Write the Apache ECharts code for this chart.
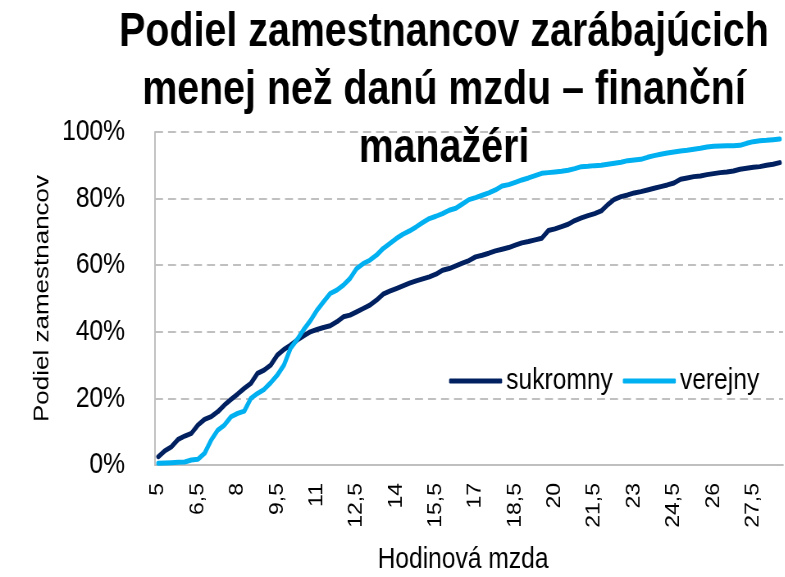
<!DOCTYPE html>
<html>
<head>
<meta charset="utf-8">
<script src="https://cdn.jsdelivr.net/npm/echarts@6/dist/echarts.min.js"></script>
<style>
  html, body { margin: 0; padding: 0; background: #fff; overflow: hidden; }
  #wrap { width: 785px; height: 577px; overflow: hidden; }
  /* The chart is laid out wider and condensed horizontally, giving narrow-style lettering */
  #chart { height: 577px; transform-origin: 0 0; }
</style>
</head>
<body>
<div id="wrap"><div id="chart"></div></div>
<script>
// Hourly wage (EUR), step 0.25
const wages = [
  5, 5.25, 5.5, 5.75, 6, 6.25, 6.5, 6.75, 7, 7.25, 7.5, 7.75,
  8, 8.25, 8.5, 8.75, 9, 9.25, 9.5, 9.75, 10, 10.25, 10.5, 10.75,
  11, 11.25, 11.5, 11.75, 12, 12.25, 12.5, 12.75, 13, 13.25, 13.5, 13.75,
  14, 14.25, 14.5, 14.75, 15, 15.25, 15.5, 15.75, 16, 16.25, 16.5, 16.75,
  17, 17.25, 17.5, 17.75, 18, 18.25, 18.5, 18.75, 19, 19.25, 19.5, 19.75,
  20, 20.25, 20.5, 20.75, 21, 21.25, 21.5, 21.75, 22, 22.25, 22.5, 22.75,
  23, 23.25, 23.5, 23.75, 24, 24.25, 24.5, 24.75, 25, 25.25, 25.5, 25.75,
  26, 26.25, 26.5, 26.75, 27, 27.25, 27.5, 27.75, 28, 28.25, 28.5
];

// Cumulative share of employees (%) – private sector
const sukromny = [
  2.5, 4.3, 5.5, 7.7, 8.7, 9.5, 12.0, 13.7, 14.5, 16.0, 18.0, 19.7,
  21.3, 23.0, 24.5, 27.5, 28.5, 30.0, 33.0, 34.7, 36.0, 37.5, 38.8, 40.0,
  40.7, 41.3, 41.8, 43.0, 44.5, 45.0, 46.0, 47.0, 48.0, 49.5, 51.3, 52.2,
  53.0, 53.8, 54.6, 55.3, 55.9, 56.5, 57.3, 58.5, 59.0, 59.8, 60.6, 61.4,
  62.5, 63.0, 63.6, 64.3, 64.8, 65.3, 66.0, 66.7, 67.1, 67.6, 68.1, 70.4,
  70.9, 71.6, 72.3, 73.4, 74.2, 74.9, 75.5, 76.3, 78.2, 79.8, 80.6, 81.1,
  81.7, 82.1, 82.6, 83.1, 83.6, 84.1, 84.7, 85.8, 86.2, 86.6, 86.8, 87.2,
  87.5, 87.8, 88.0, 88.3, 88.8, 89.1, 89.4, 89.6, 90.0, 90.3, 90.8
];

// Cumulative share of employees (%) – public sector
const verejny = [
  0.5, 0.6, 0.7, 0.8, 0.9, 1.5, 1.7, 3.5, 7.5, 10.5, 12.0, 14.5,
  15.5, 16.2, 20.0, 21.5, 22.7, 24.7, 27.0, 30.0, 35.0, 37.7, 40.7, 43.3,
  46.5, 49.0, 51.5, 52.5, 54.0, 56.0, 59.0, 60.5, 61.5, 63.0, 65.0, 66.5,
  68.0, 69.3, 70.3, 71.5, 72.8, 74.0, 74.7, 75.5, 76.5, 77.1, 78.4, 79.7,
  80.3, 81.0, 81.7, 82.6, 83.8, 84.2, 84.9, 85.6, 86.2, 86.9, 87.6, 87.8,
  88.0, 88.2, 88.5, 89.0, 89.6, 89.7, 89.9, 90.0, 90.3, 90.6, 90.9, 91.4,
  91.6, 91.8, 92.4, 92.9, 93.3, 93.7, 94.0, 94.3, 94.5, 94.8, 95.1, 95.5,
  95.7, 95.8, 95.9, 95.9, 96.0, 96.6, 97.1, 97.4, 97.5, 97.7, 97.9
];

const titleLines = ['Podiel zamestnancov zarábajúcich', 'menej než danú mzdu – finanční', 'manažéri'];
const seriesNames = ['sukromny', 'verejny'];
const xAxisTitle = 'Hodinová mzda';
const yAxisTitle = 'Podiel zamestnancov';

// Horizontal condensing factor; px() converts on-screen x distances to layout units
const K = 0.82;
const W = 785, H = 577;
const px = (v) => v / K;

const el = document.getElementById('chart');
el.style.width = px(W) + 'px';
el.style.transform = 'scaleX(' + K + ')';

const FONT = '"Liberation Sans", Arial, sans-serif';
const DARK = '#002060';
const LIGHT = '#00B0F0';

const chart = echarts.init(el, null, { renderer: 'canvas', width: px(W), height: H });

const lineStyle = (color) => ({ color: color, width: 5, cap: 'round', join: 'round' });

chart.setOption({
  animation: false,
  backgroundColor: '#fff',
  textStyle: { fontFamily: FONT, color: '#000' },
  grid: {
    left: px(155), right: px(2), top: 132, bottom: 112,
    containLabel: false,
    outerBoundsMode: 'none'
  },
  legend: {
    left: px(445),
    top: 361,
    itemWidth: px(53),
    itemHeight: 5,
    itemGap: px(10),
    icon: 'roundRect',
    textStyle: { fontFamily: FONT, fontSize: 30, color: '#000', padding: [0, 0, 0, 0] },
    data: seriesNames
  },
  xAxis: {
    type: 'category',
    data: wages,
    boundaryGap: true,
    name: xAxisTitle,
    nameLocation: 'middle',
    nameGap: 80,
    nameTextStyle: { fontFamily: FONT, fontSize: 30, color: '#000', padding: [0, px(12), 0, 0] },
    axisLine: { lineStyle: { color: '#bfbfbf', width: 2 } },
    axisTick: { show: false },
    axisLabel: {
      interval: 5,
      rotate: 90,
      margin: 18,
      fontFamily: FONT,
      fontSize: 23,
      color: '#000',
      formatter: (v) => String(v).replace('.', ',')
    },
    splitLine: { show: false }
  },
  yAxis: {
    type: 'value',
    min: 0,
    max: 100,
    interval: 20,
    name: yAxisTitle,
    nameLocation: 'middle',
    nameGap: 116,
    nameTextStyle: { fontFamily: FONT, fontSize: 26, color: '#000' },
    axisLine: { show: true, lineStyle: { color: '#bfbfbf', width: 2 } },
    axisTick: { show: false },
    axisLabel: {
      margin: px(30),
      fontFamily: FONT,
      fontSize: 30,
      color: '#000',
      formatter: '{value}%'
    },
    splitLine: { lineStyle: { color: '#c0c0c0', width: 2, type: [px(8), px(5)] } }
  },
  series: [
    {
      name: seriesNames[0],
      type: 'line',
      data: sukromny,
      showSymbol: false,
      symbol: 'none',
      lineStyle: lineStyle(DARK),
      itemStyle: { color: DARK }
    },
    {
      name: seriesNames[1],
      type: 'line',
      data: verejny,
      showSymbol: false,
      symbol: 'none',
      lineStyle: lineStyle(LIGHT),
      itemStyle: { color: LIGHT }
    }
  ],
  graphic: [
    {
      type: 'text',
      x: px(444),
      y: 4,
      z: 100,
      style: {
        text: titleLines.join('\n'),
        textAlign: 'center',
        textVerticalAlign: 'top',
        fontFamily: FONT,
        fontWeight: 'bold',
        fontSize: 48,
        lineHeight: 58,
        fill: '#000'
      }
    }
  ]
});
</script>
</body>
</html>
